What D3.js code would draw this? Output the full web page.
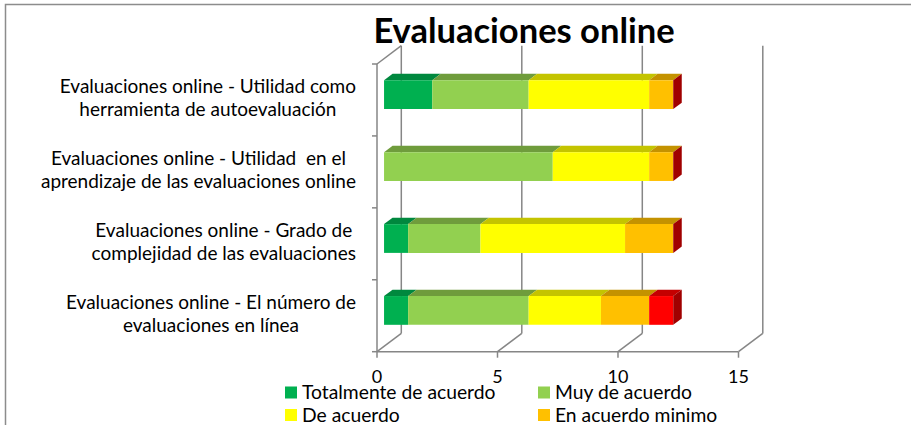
<!DOCTYPE html>
<html>
<head>
<meta charset="utf-8">
<script src="https://cdn.jsdelivr.net/npm/d3@7"></script>
<style>
  body { margin: 0; background: #fff; }
  text { font-family: Lato, "Open Sans", sans-serif; fill: #000; white-space: pre; }
</style>
</head>
<body>
<script>
// chart data
var categories = [
    "Evaluaciones online - Utilidad como|herramienta de autoevaluación",
    "Evaluaciones online - Utilidad  en el|aprendizaje de las evaluaciones online",
    "Evaluaciones online - Grado de|complejidad de las evaluaciones",
    "Evaluaciones online - El número de|evaluaciones en línea"
];
var seriesNames = ["Totalmente de acuerdo", "Muy de acuerdo", "De acuerdo", "En acuerdo minimo", "En desacuerdo"];
var totalmente = [2, 0, 1, 1];
var muy = [4, 7, 3, 5];
var deAcuerdo = [5, 4, 6, 3];
var minimo = [1, 1, 2, 2];
var desacuerdo = [0, 0, 0, 1];
var xTicks = [0, 5, 10, 15];

var colors = ["#00b050", "#92d050", "#ffff00", "#ffc000", "#ff0000"];
var topColors = ["#00883e", "#6f9c3c", "#c4c400", "#c49200", "#c40000"];
var sideColor = "#a00000";

var width = 911, height = 425;
var svg = d3.select("body").append("svg")
    .attr("width", width)
    .attr("height", height);

// chart frame border (only top and left visible)
svg.append("path")
    .attr("d", "M5.5,425 V4.5 H911")
    .attr("fill", "none")
    .attr("stroke", "#8c8c8c")
    .attr("stroke-width", 1.5);

// 3d projection: depth 0..1 moves right and up
var depthX = 24.3, depthY = 18.3;
var x = d3.scaleLinear().domain([0, 15]).range([377, 738.5]);
var y = d3.scaleBand().domain(categories).range([64, 351.7])
    .paddingInner(0.6).paddingOuter(0.3);

function pt(v, yy, d){
    return [x(v) + d * depthX, yy - d * depthY];
}

var grid = "#868686";
var yTop = 64, yBot = 351.7;

// back wall gridlines
svg.selectAll(".gridBack")
    .data(xTicks)
    .enter().append("line")
    .attr("x1", function(d){ return pt(d, yBot, 1)[0]; })
    .attr("x2", function(d){ return pt(d, yTop, 1)[0]; })
    .attr("y1", pt(0, yBot, 1)[1])
    .attr("y2", pt(0, yTop, 1)[1])
    .attr("stroke", grid).attr("stroke-width", 1.5);

// floor lines
svg.selectAll(".gridFloor")
    .data(xTicks)
    .enter().append("line")
    .attr("x1", function(d){ return pt(d, yBot, 0)[0]; })
    .attr("y1", yBot)
    .attr("x2", function(d){ return pt(d, yBot, 1)[0]; })
    .attr("y2", pt(0, yBot, 1)[1])
    .attr("stroke", grid).attr("stroke-width", 1.5);

// front axes
svg.append("line")
    .attr("x1", x(0)).attr("x2", x(15))
    .attr("y1", yBot).attr("y2", yBot)
    .attr("stroke", grid).attr("stroke-width", 1.5);
svg.append("line")
    .attr("x1", x(0)).attr("x2", x(0))
    .attr("y1", yTop).attr("y2", yBot)
    .attr("stroke", grid).attr("stroke-width", 1.5);
// side wall top edge
svg.append("line")
    .attr("x1", x(0)).attr("y1", yTop)
    .attr("x2", pt(0, yTop, 1)[0]).attr("y2", pt(0, yTop, 1)[1])
    .attr("stroke", grid).attr("stroke-width", 1.5);

// x ticks
svg.selectAll(".xtick")
    .data(xTicks)
    .enter().append("line")
    .attr("x1", function(d){ return x(d); })
    .attr("x2", function(d){ return x(d); })
    .attr("y1", yBot).attr("y2", yBot + 6)
    .attr("stroke", grid).attr("stroke-width", 1.5);

svg.selectAll(".xlabel")
    .data(xTicks)
    .enter().append("text")
    .attr("x", function(d){ return x(d); })
    .attr("y", 383)
    .attr("text-anchor", "middle")
    .style("font-size", "18px")
    .text(function(d){ return d; });

// y ticks (category boundaries)
var step = y.step();
var yEdges = d3.range(categories.length + 1).map(function(i){ return yTop + i * step; });
svg.selectAll(".ytick")
    .data(yEdges)
    .enter().append("line")
    .attr("x1", x(0) - 5).attr("x2", x(0))
    .attr("y1", function(d){ return d; })
    .attr("y2", function(d){ return d; })
    .attr("stroke", grid).attr("stroke-width", 1.5);

// stacked 3d bars
var stackData = categories.map(function(c, i){
    return { cat: c, s0: totalmente[i], s1: muy[i], s2: deAcuerdo[i], s3: minimo[i], s4: desacuerdo[i] };
});
var stack = d3.stack().keys(["s0", "s1", "s2", "s3", "s4"]);
var layers = stack(stackData);

var d0 = 0.29, d1 = 0.64;
function poly(points){ return points.map(function(p){ return p.join(","); }).join(" "); }

layers.forEach(function(layer, li){
    layer.forEach(function(seg, ci){
        var cat = categories[ci];
        var yy0 = y(cat), yy1 = y(cat) + y.bandwidth();
        var a = seg[0], b = seg[1];
        if (b - a <= 0) return;
        // top face
        svg.append("polygon")
            .attr("points", poly([pt(a, yy0, d0), pt(b, yy0, d0), pt(b, yy0, d1), pt(a, yy0, d1)]))
            .attr("fill", topColors[li]);
        // front face
        svg.append("polygon")
            .attr("points", poly([pt(a, yy0, d0), pt(b, yy0, d0), pt(b, yy1, d0), pt(a, yy1, d0)]))
            .attr("fill", colors[li]);
    });
});

// end cap side face of each bar
stackData.forEach(function(row, ci){
    var cat = categories[ci];
    var yy0 = y(cat), yy1 = y(cat) + y.bandwidth();
    var tot = row.s0 + row.s1 + row.s2 + row.s3 + row.s4;
    svg.append("polygon")
        .attr("points", poly([pt(tot, yy0, d0), pt(tot, yy0, d1), pt(tot, yy1, d1), pt(tot, yy1, d0)]))
        .attr("fill", sideColor);
});

// category labels, two lines each, centred within a right-aligned box
var labelRight = 356;
categories.forEach(function(c){
    var lines = c.split("|");
    var mid = y(c) + y.bandwidth() / 2;
    var g = svg.append("g");
    var texts = lines.map(function(l, i){
        return g.append("text")
            .attr("y", mid - 7 + i * 23.5)
            .attr("text-anchor", "middle")
            .style("font-size", "19px")
            .text(l);
    });
    var maxW = d3.max(texts, function(t){ return t.node().getComputedTextLength(); });
    texts.forEach(function(t){ t.attr("x", labelRight - maxW / 2); });
});

// title
svg.append("text")
    .attr("x", 524)
    .attr("y", 42.5)
    .attr("text-anchor", "middle")
    .style("font-size", "34.5px")
    .style("font-weight", "bold")
    .text("Evaluaciones online");

// legend (first four entries visible)
var legendPos = [[285, 399], [538, 399], [285, 421.5], [538, 421.5]];
legendPos.forEach(function(p, i){
    svg.append("rect")
        .attr("x", p[0]).attr("y", p[1] - 12.5)
        .attr("width", 12).attr("height", 12)
        .attr("fill", colors[i]);
    svg.append("text")
        .attr("x", p[0] + 17).attr("y", p[1])
        .style("font-size", "19.3px")
        .text(seriesNames[i]);
});
</script>
</body>
</html>
